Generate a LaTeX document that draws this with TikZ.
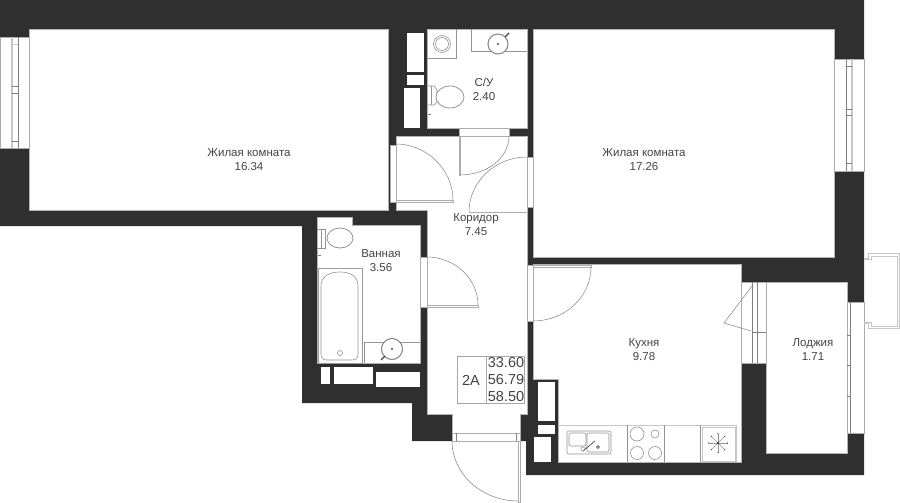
\documentclass[tikz,border=0pt]{standalone}
\usepackage{fontspec}
\setmainfont{Liberation Sans}
\definecolor{wall}{HTML}{2F2F2F}
\definecolor{ink}{HTML}{444444}
\tikzset{
  room/.style={fill=white, draw=gray!60, line width=0.5pt},
  shaft/.style={fill=white, draw=none},
  opening/.style={fill=white, draw=gray!65, line width=0.5pt},
  thinline/.style={draw=gray, line width=0.5pt},
  paleline/.style={draw=gray!45, line width=0.9pt},
  fixture/.style={draw=gray!85, line width=0.6pt},
  sinkbowl/.style={draw=gray!90, fill=white, line width=1.1pt},
  roomlabel/.style={text=ink, align=center, font=\fontsize{11.5}{14}\selectfont},
  arealabel/.style={text=ink, font=\fontsize{14.5}{17}\selectfont}
}
\begin{document}
\begin{tikzpicture}[x=1pt, y=-1pt]
\useasboundingbox (0,0) rectangle (900,503);

% Outer mass of the walls, rooms are cut out of it afterwards
\fill[wall] (0,0) -- (864,0) -- (864,475) -- (526,475) -- (526,441) -- (412,441)
  -- (412,403) -- (302,403) -- (302,226) -- (0,226) -- cycle;

% Rooms
\draw[room] (29,29) rectangle (388,210);
\draw[room] (427,29) rectangle (527,128);
\draw[room] (533,29) -- (834,29) -- (834,257) -- (533,257) -- cycle;
\draw[room] (396,136) -- (527,136) -- (527,414) -- (520,414) -- (520,441)
  -- (452,441) -- (452,414) -- (427,414) -- (427,210) -- (396,210) -- cycle;
\draw[room] (317,217) -- (352,217) -- (352,225) -- (420,225) -- (420,363) -- (317,363) -- cycle;
\draw[room] (533,264) -- (741,264) -- (741,462) -- (558,462) -- (558,379) -- (533,379) -- cycle;
\draw[room] (766,282) rectangle (847,453);

% Shafts inside the walls
\fill[shaft] (407,33) rectangle (424,72);
\fill[shaft] (407,75) rectangle (424,85);
\fill[shaft] (404,88) rectangle (420,128);
\fill[shaft] (321,367) rectangle (330,384);
\fill[shaft] (334,367) rectangle (373,384);
\fill[shaft] (376,372) rectangle (420,387);
\fill[shaft] (538,382) rectangle (555,421);
\fill[shaft] (538,425) rectangle (555,434);
\fill[shaft] (534,437) rectangle (551,462);

% Left window
\draw[opening] (0,37) rectangle (29,148);
\draw[paleline, line width=2pt] (12,37) -- (12,148);
\draw[thinline] (18,37) -- (18,148);
\draw[paleline] (12,44) -- (18,44);
\foreach \ty in {86,93,141} \draw[thinline] (12,\ty) -- (18,\ty);

% Right window
\draw[opening] (834,59) rectangle (864,171);
\draw[paleline, line width=2pt] (852,59) -- (852,171);
\draw[thinline] (846,59) -- (846,171);
\foreach \ty in {66,109,115,163} \draw[thinline] (846,\ty) -- (852,\ty);

% Loggia window
\draw[opening] (847,302) rectangle (864,433);
\draw[thinline] (850,302) -- (850,433);
\foreach \ty in {335,365,396} \draw[thinline] (847,\ty) -- (850,\ty);

% Balcony box outside the loggia
\draw[paleline, line width=0.6pt] (864,258) -- (868,258) -- (868,253.5) -- (899.5,253.5)
  -- (899.5,328) -- (868,328) -- (868,323) -- (864,323);
\draw[paleline, line width=0.6pt] (864,259.5) -- (871,259.5) -- (871,256) -- (897,256)
  -- (897,326) -- (871,326) -- (871,322) -- (864,322);

% Kitchen to loggia door
\draw[opening] (741,282) rectangle (766,363);
\draw[thinline] (752,282) -- (752,363);
\draw[thinline] (757,282) -- (757,363);
\draw[thinline] (752,332) -- (766,332);
\draw[thinline] (752,286) -- (724,323) -- (751,331);

% Door to the left room
\draw[opening] (390,145) rectangle (396,202);
\draw[opening] (396,200) rectangle (453,202);
\draw[thinline] (396,144) .. controls (427,144) and (453,170) .. (453,200);

% Door of the toilet
\draw[opening] (459,128) rectangle (509,136);
\draw[opening] (459,136) rectangle (460,175);
\draw[thinline] (509,136) .. controls (509,158) and (487,175) .. (460,175);

% Door to the right room
\draw[opening] (527,157) rectangle (533,207);
\draw[opening] (469,212) -- (527,212);
\draw[thinline] (527,157) .. controls (495,157) and (469,182) .. (469,212);

% Door of the bathroom
\draw[opening] (420,257) rectangle (427,307);
\draw[opening] (427,305) rectangle (478,307);
\draw[thinline] (427,257) .. controls (455,257) and (478,279) .. (478,305);

% Door of the kitchen
\draw[opening] (527,265) rectangle (533,321);
\draw[opening] (533,265) rectangle (591,267);
\draw[thinline] (591,267) .. controls (591,297) and (565,321) .. (533,321);

% Entrance door
\draw[opening] (452,433) rectangle (520,441);
\draw[thinline] (456,433) -- (456,441);
\draw[thinline] (516,433) -- (516,441);
\draw[opening] (518,441) rectangle (520,502);
\draw[thinline] (452,441) .. controls (452,474) and (482,501) .. (518,501);

% Toilet room fittings
\draw[fixture] (427,58) -- (456,58) -- (456,29);
\draw[fixture] (442,44) circle (8.5);
\draw[fixture] (442,44) circle (6.5);
\draw[fixture] (471,29) -- (471,51) -- (527,51);
\draw[sinkbowl] (498,44) circle (10);
\fill[ink] (498,44) circle (1.1);
\draw[ink, line width=1.2pt] (505,37) -- (509,33);
\draw[fixture] (427,86) -- (434,86) -- (437,90) -- (437,102) -- (434,105) -- (427,105);
\draw[fixture] (431,86) -- (431,105);
\draw[fixture, fill=white, line width=0.8pt] (450,97) ellipse (14 and 11);
\draw[thinline] (428,114) -- (431,114);

% Bathroom fittings
\draw[fixture] (317,229) -- (325,229) -- (325,248) -- (317,248);
\draw[fixture] (321,229) -- (321,248);
\draw[fixture, fill=white, line width=0.8pt] (340,238) ellipse (13 and 10);
\draw[thinline] (318,255) -- (321,255);
\draw[paleline, draw=gray!80] (318,268) rectangle (362,363);
\draw[fixture] (321,286) .. controls (321,276) and (330,272) .. (340,272)
  .. controls (350,272) and (358,276) .. (358,286) -- (358,354)
  .. controls (358,358) and (356,360) .. (352,360) -- (327,360)
  .. controls (323,360) and (321,358) .. (321,354) -- cycle;
\draw[fixture] (340,353) circle (2.5);
\draw[fixture] (364,363) -- (364,342) -- (420,342);
\draw[sinkbowl] (392,349) circle (10.5);
\fill[ink] (392,349) circle (1.1);
\draw[ink, line width=1.2pt] (385,356) -- (381,360);

% Kitchen fittings
\draw[paleline] (558,425) -- (736,425) -- (736,462);
\draw[fixture] (627,425) -- (627,462);
\draw[fixture] (664,425) -- (664,462);
\draw[fixture] (700,425) -- (700,462);
\draw[paleline] (702,427) rectangle (735,461);
\draw[fixture, rounded corners=2pt] (567,431) rectangle (611,454);
\draw[fixture, rounded corners=2pt] (569,433) rectangle (586,446);
\draw[fixture, rounded corners=2pt] (587,433) rectangle (609,452);
\draw[ink, line width=0.7pt] (583,451) -- (595,441);
\draw[fixture] (583,449) circle (2);
\draw[fixture, fill=gray] (598,447) circle (1.8);
\draw[fixture] (637,434) circle (7);
\draw[fixture] (655,434) circle (4);
\draw[fixture] (637,453) circle (6.5);
\draw[fixture] (655,453) circle (6.5);
\foreach \ang in {0,45,...,315} {
  \draw[fixture] (718,443) -- ++(\ang:9.5);
  \fill[ink] (718,443) ++(\ang:9.5) circle (0.7);
}
\fill[wall] (718,443) circle (1.2);

% Summary box
\draw[fixture, draw=gray!70] (457,356) rectangle (524,403);
\draw[fixture, draw=gray!70] (486,356) -- (486,403);
\node[arealabel] (flattype) at (471,380) {2A};
\node[arealabel] (arealiving) at (506,363) {33.60};
\node[arealabel] (areauseful) at (506,380) {56.79};
\node[arealabel] (areatotal) at (506,397) {58.50};

% labels
\node[roomlabel] (livingleft) at (249,160) {Жилая комната\\16.34};
\node[roomlabel] (livingright) at (644,160) {Жилая комната\\17.26};
\node[roomlabel] (toilet) at (484,89) {С/У\\2.40};
\node[roomlabel] (corridor) at (476,225) {Коридор\\7.45};
\node[roomlabel] (bathroom) at (381,261) {Ванная\\3.56};
\node[roomlabel] (kitchen) at (644,350) {Кухня\\9.78};
\node[roomlabel] (loggia) at (813,350) {Лоджия\\1.71};

\end{tikzpicture}
\end{document}
